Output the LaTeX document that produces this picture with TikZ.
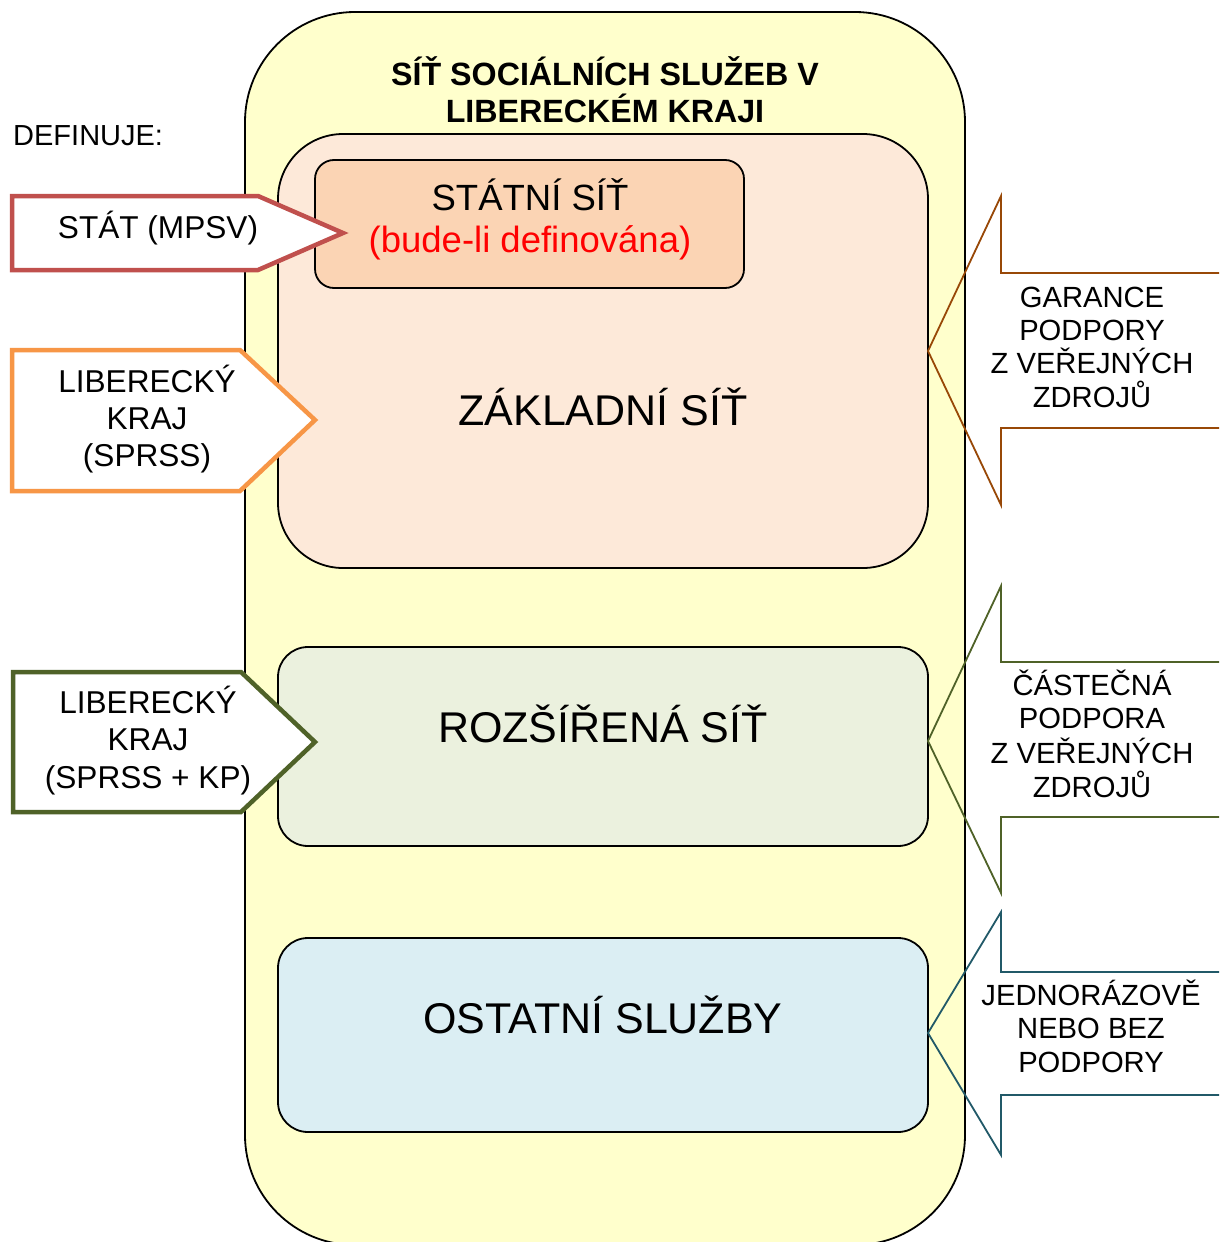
\documentclass[tikz,border=0pt]{standalone}
\usepackage{fontspec}
\setmainfont{Liberation Sans}
\definecolor{cYel}{HTML}{FFFFCC}
\definecolor{cZakl}{HTML}{FDE9D9}
\definecolor{cStat}{HTML}{FBD4B4}
\definecolor{cRozs}{HTML}{EBF1DE}
\definecolor{cOst}{HTML}{DBEEF3}
\definecolor{cRed}{HTML}{C0504D}
\definecolor{cOrange}{HTML}{F79646}
\definecolor{cGreen}{HTML}{4F6228}
\definecolor{cBrown}{HTML}{984807}
\definecolor{cTeal}{HTML}{215968}
\definecolor{cText}{HTML}{FF0000}
\begin{document}
\begin{tikzpicture}[x=1pt,y=-1pt,
  box/.style={draw=black, line width=1.8pt, inner sep=0pt},
  larrow/.style={line width=4.5pt, line join=miter, fill=white},
  rarrow/.style={line width=1.8pt, line join=miter},
  txt/.style={anchor=base, inner sep=0pt},
  lfont/.style={font=\fontsize{31.6}{37}\selectfont},
  rfont/.style={font=\fontsize{29.2}{34}\selectfont},
  bigfont/.style={font=\fontsize{43}{50}\selectfont},
  titlefont/.style={font=\fontsize{32.2}{37}\selectfont\bfseries}]
\useasboundingbox (0,0) rectangle (1219,1242);
\clip (0,0) rectangle (1219,1242);
\fill[white] (0,0) rectangle (1219,1242);

% boxes
\node[box, fill=cYel, rounded corners=110pt, minimum width=720pt, minimum height=1233pt] (outer) at (605,628.5) {};
\node[box, fill=cZakl, rounded corners=65pt, minimum width=650pt, minimum height=434pt] (zakl) at (603,351) {};
\node[box, fill=cStat, rounded corners=19pt, minimum width=429pt, minimum height=128pt] (stat) at (529.5,224) {};
\node[box, fill=cRozs, rounded corners=30pt, minimum width=650pt, minimum height=199pt] (rozs) at (603,746.5) {};
\node[box, fill=cOst, rounded corners=30pt, minimum width=650pt, minimum height=194pt] (ost) at (603,1035) {};

% title
\node[txt, titlefont] (title1) at (605,85) {SÍŤ SOCIÁLNÍCH SLUŽEB V};
\node[txt, titlefont] (title2) at (605,122) {LIBERECKÉM KRAJI};
\node[anchor=base west, inner sep=0pt, font=\fontsize{29}{34}\selectfont] (def) at (13,145) {DEFINUJE:};

% inner texts
\node[txt, font=\fontsize{36.5}{40}\selectfont] (stat1) at (530,210) {STÁTNÍ SÍŤ};
\node[txt, font=\fontsize{36.5}{40}\selectfont, text=cText] (stat2) at (530,252) {(bude-li definována)};
\node[txt, bigfont] (zakltxt) at (603,425) {ZÁKLADNÍ SÍŤ};
\node[txt, bigfont] (rozstxt) at (603,742) {ROZŠÍŘENÁ SÍŤ};
\node[txt, bigfont] (osttxt) at (603,1033) {OSTATNÍ SLUŽBY};

% left arrows
\draw[larrow, draw=cRed] (12,196) -- (258,196) -- (343,233) -- (258,270) -- (12,270) -- cycle;
\draw[larrow, draw=cOrange] (12,350) -- (240,350) -- (315,420) -- (240,491) -- (12,491) -- cycle;
\draw[larrow, draw=cGreen] (13,672) -- (241,672) -- (315,742) -- (241,812) -- (13,812) -- cycle;

\node[txt, lfont] (a1) at (158,238) {STÁT (MPSV)};
\node[txt, lfont] (b1) at (147,392) {LIBERECKÝ};
\node[txt, lfont] (b2) at (147,429) {KRAJ};
\node[txt, lfont] (b3) at (147,466) {(SPRSS)};
\node[txt, lfont] (c1) at (148,713) {LIBERECKÝ};
\node[txt, lfont] (c2) at (148,750) {KRAJ};
\node[txt, lfont] (c3) at (148,788) {(SPRSS + KP)};

% right arrows
\draw[rarrow, draw=cBrown] (1230,273) -- (1001,273) -- (1001,196) -- (928,351) -- (1001,505) -- (1001,428) -- (1230,428);
\draw[rarrow, draw=cGreen] (1230,662) -- (1001,662) -- (1001,586) -- (928,741) -- (1001,893) -- (1001,817) -- (1230,817);
\draw[rarrow, draw=cTeal] (1230,972) -- (1001,972) -- (1001,912) -- (928,1033) -- (1001,1155) -- (1001,1095) -- (1230,1095);

\node[txt, rfont] (g1) at (1092,307) {GARANCE};
\node[txt, rfont] (g2) at (1092,340) {PODPORY};
\node[txt, rfont] (g3) at (1092,373) {Z VEŘEJNÝCH};
\node[txt, rfont] (g4) at (1092,407) {ZDROJŮ};
\node[txt, rfont] (h1) at (1092,695) {ČÁSTEČNÁ};
\node[txt, rfont] (h2) at (1092,728) {PODPORA};
\node[txt, rfont] (h3) at (1092,763) {Z VEŘEJNÝCH};
\node[txt, rfont] (h4) at (1092,797) {ZDROJŮ};
\node[txt, rfont] (j1) at (1091,1005) {JEDNORÁZOVĚ};
\node[txt, rfont] (j2) at (1091,1038) {NEBO BEZ};
\node[txt, rfont] (j3) at (1091,1072) {PODPORY};
\end{tikzpicture}
\end{document}
